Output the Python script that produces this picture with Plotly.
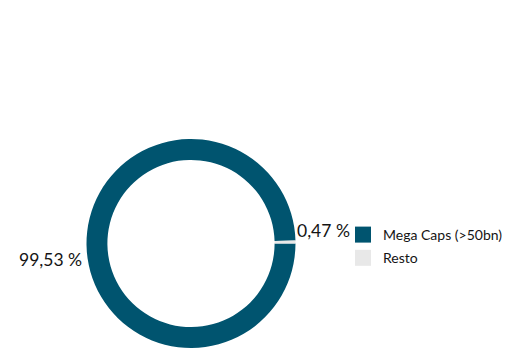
import math
import plotly.graph_objects as go

labels = ["Mega Caps (>50bn)", "Resto"]
values = [99.53, 0.47]
text_labels = ["99,53 %", "0,47 %"]
colors = ["#00546F", "#E8E8E8"]

W, H = 510, 348
OFF = 8  # page body margin in the browser
cx, cy, r = 191 - OFF, 243.5 - OFF, 104.5
FONT = "Lato"
TXT = "#141414"

fig = go.Figure()
fig.add_trace(go.Pie(
    labels=labels,
    values=values,
    textinfo="none",
    hole=0.8,
    sort=False,
    direction="clockwise",
    rotation=90,
    showlegend=False,
    hoverinfo="label+percent",
    marker=dict(colors=colors, line=dict(color="#FFFFFF", width=0)),
    domain=dict(x=[(cx - r) / W, (cx + r) / W],
                y=[max(0.0, 1 - (cy + r) / H), min(1.0, 1 - (cy - r) / H)]),
))

# legend entries (square swatches)
for i, (lab, col) in enumerate(zip(labels, colors)):
    fig.add_trace(go.Scatter(
        x=[None], y=[None], mode="markers", name=lab, legendgroup=f"g{i}",
        marker=dict(symbol="square", size=18, color=col),
        showlegend=True, hoverinfo="skip",
    ))

# outside labels at the slice mid-angles (clockwise from 3 o'clock)
total = sum(values)
cum = 0.0
for v, t in zip(values, text_labels):
    mid = (cum + v / 2) / total * 2 * math.pi
    cum += v
    ang = -mid  # clockwise on screen
    px = cx + r * math.cos(ang)
    py = cy - r * math.sin(ang)
    right = math.cos(ang) >= 0
    above = math.sin(ang) > 0
    fig.add_annotation(
        x=px / W, y=1 - py / H, xref="paper", yref="paper",
        text=t, showarrow=False,
        xanchor="left" if right else "right",
        yanchor="bottom" if above else "top",
        xshift=0 if right else -3,
        yshift=-1 if above else -2,
        font=dict(size=17.5, color=TXT, family=FONT),
    )

fig.update_layout(
    width=W, height=H,
    margin=dict(l=0, r=0, t=0, b=0, autoexpand=False),
    paper_bgcolor="white",
    plot_bgcolor="white",
    font=dict(family=FONT, color=TXT),
    xaxis=dict(visible=False),
    yaxis=dict(visible=False),
    legend=dict(
        x=335 / W, xanchor="left",
        y=1 - 211 / H, yanchor="top",
        font=dict(size=14, color=TXT, family=FONT),
        bgcolor="rgba(0,0,0,0)",
        tracegroupgap=2,
    ),
    showlegend=True,
)

fig.write_html("out.html")
